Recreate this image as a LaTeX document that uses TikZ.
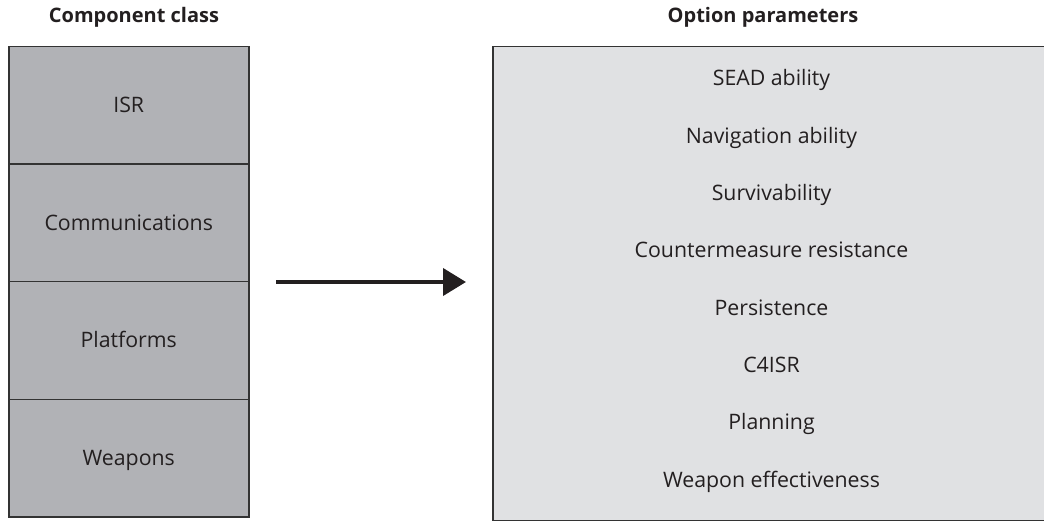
\documentclass[tikz,border=0pt]{standalone}
\usepackage{fontspec}
\setmainfont{Open Sans}
\usetikzlibrary{arrows.meta}
\definecolor{classfill}{HTML}{B1B2B6}
\definecolor{paramfill}{HTML}{E0E1E3}
\definecolor{edge}{HTML}{333333}
\definecolor{ink}{HTML}{231F20}
\tikzset{
  heading/.style={font=\fontsize{20}{24}\selectfont\bfseries, text=ink, inner sep=0pt, anchor=base},
  classbox/.style={draw=edge, line width=1.5pt, fill=classfill, minimum width=240pt,
    minimum height=117.5pt, inner sep=0pt, anchor=north west, text height=15pt, text depth=0pt,
    font=\fontsize{21.3}{25}\selectfont, text=ink},
  parambox/.style={draw=edge, line width=1.5pt, fill=paramfill, inner sep=0pt, anchor=north west,
    minimum width=570pt, minimum height=473.5pt},
  param/.style={font=\fontsize{21.3}{25}\selectfont, text=ink, inner sep=0pt, anchor=base},
  flow/.style={line width=4pt, draw=ink, -{Triangle[length=23pt,width=27pt]}}
}
\begin{document}
\begin{tikzpicture}[x=1pt,y=-1pt]
\useasboundingbox (0,0) rectangle (1044,521);
% headings
\node[heading] (hcls) at (134,23) {Component class};
\node[heading] (hpar) at (763,23) {Option parameters};
% component classes
\node[classbox] (isr) at (8,46) {ISR};
\node[classbox] (com) at (8,163.5) {Communications};
\node[classbox] (pla) at (8,281) {Platforms};
\node[classbox] (wea) at (8,398.5) {Weapons};
% option parameters
\node[parambox] (box) at (492,46) {};
\foreach \t [count=\i from 0] in {SEAD ability, Navigation ability, Survivability,
  Countermeasure resistance, Persistence, C4ISR, Planning, Weapon effectiveness}
  \node[param] (p\i) at (771.5,{86+57.3*\i}) {\t};
% arrow
\coordinate (a0) at (276,282);
\coordinate (a1) at (466,282);
\draw[flow] (a0) -- (a1);
\end{tikzpicture}
\end{document}
